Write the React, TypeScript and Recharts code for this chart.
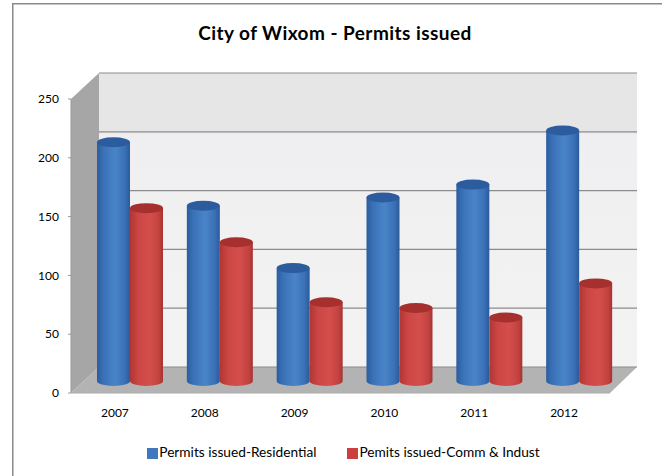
import { BarChart, Bar, XAxis, YAxis, CartesianGrid, Legend } from 'recharts';

const years = ['2007', '2008', '2009', '2010', '2011', '2012'];
const residential = [203, 149, 96, 156, 167, 213];
const commInd = [147, 118, 67, 62, 54, 83];
const yTicks = [0, 50, 100, 150, 200, 250];

const rows = years.map((year, i) => ({
  year,
  residential: residential[i],
  commInd: commInd[i],
}));

// fake 3D box: depth of the walls and how far the bars sit behind the front edge
const DEPTH_X = 28;
const DEPTH_Y = 26;
const BAR_DX = 14;
const BAR_DY = 12;
const CAP_RY = 5;

const LEFT = 71;
const RIGHT = 610;
const TOP = 99;
const BOTTOM = 393;
const FONT = 'Lato, Carlito, sans-serif';

const Cylinder = (props: any) => {
  const { x, y, width, height, gradient, cap } = props;
  const l = x + BAR_DX;
  const r = l + width;
  const t = y - BAR_DY;
  const b = y + height - BAR_DY;
  const rx = width / 2;
  return (
    <g>
      <path
        d={`M${l},${t} L${l},${b} A${rx},${CAP_RY} 0 0 0 ${r},${b} L${r},${t} Z`}
        fill={`url(#${gradient})`}
      />
      <ellipse cx={l + rx} cy={t} rx={rx} ry={CAP_RY} fill={cap} />
    </g>
  );
};

const GridLine = (props: any) => (
  <line
    x1={props.x1 + DEPTH_X}
    x2={props.x2 + DEPTH_X - 1}
    y1={props.y1 - DEPTH_Y}
    y2={props.y2 - DEPTH_Y}
    stroke="#8c8c8c"
    strokeWidth={1.2}
  />
);

export default function App() {
  return (
    <div style={{ position: 'absolute', left: 0, top: 0, width: 662, height: 476, background: '#fff' }}>
      <BarChart
        width={662}
        height={476}
        data={rows}
        barSize={33}
        barGap={0}
        barCategoryGap={0}
        margin={{ top: TOP, right: 662 - RIGHT, bottom: 0, left: 0 }}
      >
        <defs>
          <linearGradient id="blueCyl" x1="0" y1="0" x2="1" y2="0">
            <stop offset="0" stopColor="#2b5d9f" />
            <stop offset="0.2" stopColor="#3a72b8" />
            <stop offset="0.55" stopColor="#4a84c8" />
            <stop offset="0.85" stopColor="#3a70b6" />
            <stop offset="1" stopColor="#2b5a98" />
          </linearGradient>
          <linearGradient id="redCyl" x1="0" y1="0" x2="1" y2="0">
            <stop offset="0" stopColor="#b03634" />
            <stop offset="0.25" stopColor="#cb4644" />
            <stop offset="0.6" stopColor="#d44f4c" />
            <stop offset="0.88" stopColor="#c24240" />
            <stop offset="1" stopColor="#a33331" />
          </linearGradient>
          <linearGradient id="wall" x1="0" y1="0" x2="0" y2="1">
            <stop offset="0" stopColor="#e6e6e6" />
            <stop offset="0.2" stopColor="#e6e6e6" />
            <stop offset="0.21" stopColor="#efeff1" />
            <stop offset="1" stopColor="#f3f3f3" />
          </linearGradient>
        </defs>
        <rect x={12} y={3} width={1.5} height={480} fill="#8a8a8a" />
        <rect x={12} y={3} width={660} height={1.5} fill="#8a8a8a" />
        <text x={335} y={40} textAnchor="middle" fontFamily={FONT} fontSize={19} fontWeight={700} fill="#000" letterSpacing={0.45}>
          City of Wixom - Permits issued
        </text>
        <rect x={LEFT + DEPTH_X} y={TOP - DEPTH_Y} width={RIGHT - LEFT - 1} height={BOTTOM - TOP} fill="url(#wall)" />
        <polygon
          points={`${LEFT},${TOP} ${LEFT + DEPTH_X},${TOP - DEPTH_Y} ${LEFT + DEPTH_X},${BOTTOM - DEPTH_Y} ${LEFT},${BOTTOM}`}
          fill="#a6a6a6"
        />
        <polygon
          points={`${LEFT},${BOTTOM} ${LEFT + DEPTH_X},${BOTTOM - DEPTH_Y} ${RIGHT + DEPTH_X - 1},${BOTTOM - DEPTH_Y} ${RIGHT},${BOTTOM}`}
          fill="#b3b3b3"
        />
        <CartesianGrid vertical={false} horizontal={GridLine} zIndex={0} />
        <XAxis
          dataKey="year"
          height={476 - BOTTOM}
          tickLine={false}
          axisLine={{ stroke: '#aaa' }}
          tick={{ fontFamily: FONT, fontSize: 12, fill: '#000', dx: -1 }}
          tickMargin={9}
        />
        <YAxis
          domain={[0, 250]}
          ticks={yTicks}
          axisLine={{ stroke: '#999' }}
          tickLine={{ stroke: '#999' }}
          tickSize={3}
          tickMargin={9}
          width={LEFT}
          tick={{ fontFamily: FONT, fontSize: 12, fill: '#000' }}
        />
        <Bar
          dataKey="residential"
          name="Permits issued-Residential"
          fill="#3f78bf"
          isAnimationActive={false}
          shape={(p: any) => <Cylinder {...p} gradient="blueCyl" cap="#2c5c9e" />}
        />
        <Bar
          dataKey="commInd"
          name="Pemits issued-Comm & Indust"
          fill="#c9403d"
          isAnimationActive={false}
          shape={(p: any) => <Cylinder {...p} gradient="redCyl" cap="#a5302e" />}
        />
        <Legend
          iconType="square"
          iconSize={11}
          verticalAlign="middle"
          itemSorter={null}
          wrapperStyle={{ left: 119, width: 480, top: 443, textAlign: 'left', fontFamily: FONT, fontSize: 13.7, color: '#000' }}
          formatter={(v: string) => <span style={{ color: '#000', marginLeft: -3, marginRight: 21 }}>{v}</span>}
        />
      </BarChart>
    </div>
  );
}
